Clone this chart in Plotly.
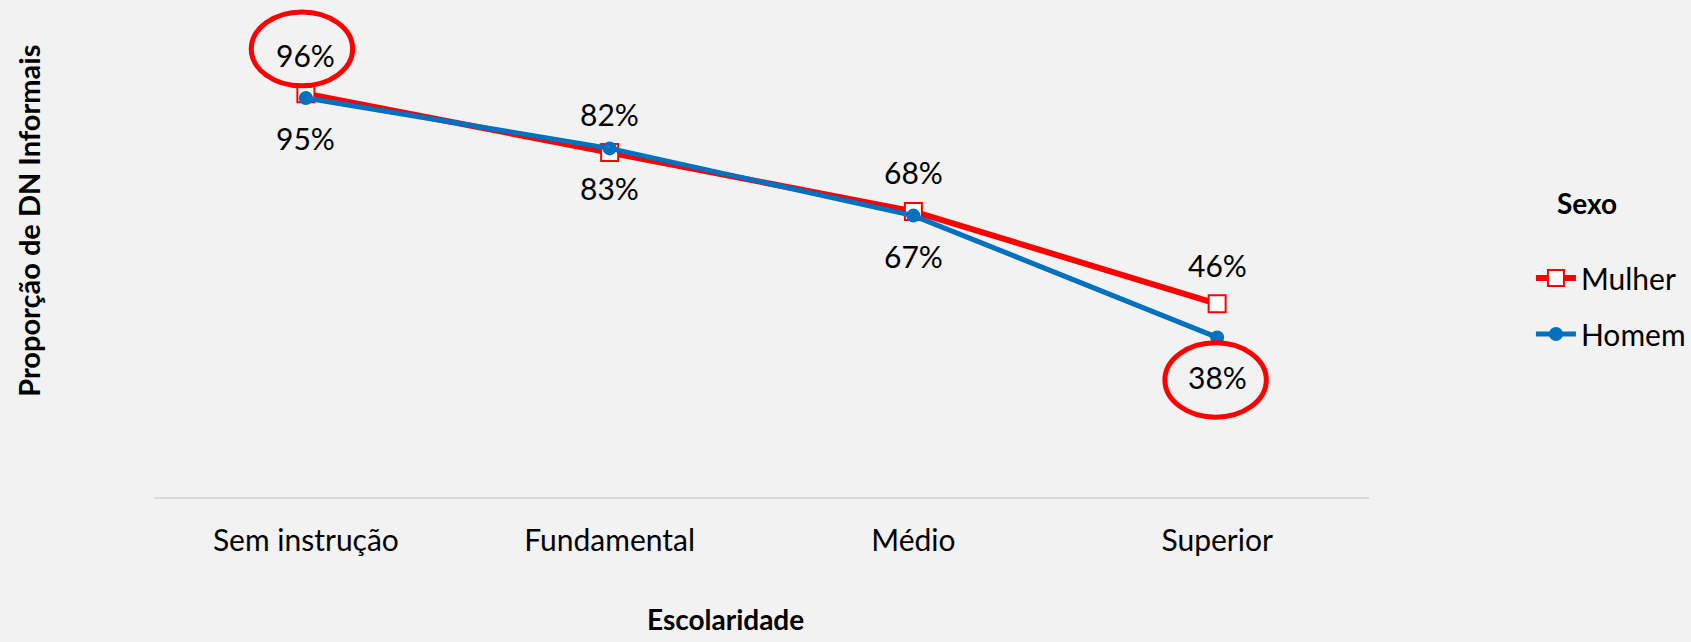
import plotly.graph_objects as go

categories = ["Sem instrução", "Fundamental", "Médio", "Superior"]
mulher = [0.96, 0.82, 0.68, 0.46]
homem = [0.95, 0.83, 0.67, 0.38]
series_names = ["Mulher", "Homem"]
x_title = "Escolaridade"
y_title = "Proporção de DN Informais"
legend_title = "Sexo"

# highlighted points: (series values, index, ellipse offsets)
highlights = [
    (mulher, 0, (-0.180, 0.154, 0.019, 0.195)),
    (homem, 3, (-0.172, 0.162, -0.190, -0.013)),
]

RED = "#FF0000"
BLUE = "#0070C0"
BG = "#F2F2F2"
FONT = "Lato"
W, H = 1691, 642
L, R, T, B = 154, 314, 0, 145
PX_PER_UNIT = 420.0
plot_h = H - T - B
ymax = plot_h / PX_PER_UNIT

fig = go.Figure()
fig.add_trace(go.Scatter(
    x=categories, y=mulher, name=series_names[0], mode="lines+markers",
    line=dict(color=RED, width=6),
    marker=dict(symbol="square", size=17, color="white", line=dict(color=RED, width=2)),
    cliponaxis=False, legendgroup="m",
))
fig.add_trace(go.Scatter(
    x=categories, y=homem, name=series_names[1], mode="lines+markers",
    line=dict(color=BLUE, width=5),
    marker=dict(symbol="circle", size=14, color=BLUE),
    cliponaxis=False, legendgroup="h",
))

annotations = []
for i, c in enumerate(categories):
    annotations.append(dict(x=c, y=mulher[i], xref="x", yref="y", text=f"{round(mulher[i]*100)}%",
                            showarrow=False, yshift=39, font=dict(family=FONT, size=30, color="black")))
    annotations.append(dict(x=c, y=homem[i], xref="x", yref="y", text=f"{round(homem[i]*100)}%",
                            showarrow=False, yshift=-40, font=dict(family=FONT, size=30, color="black")))

def px_to_paper_x(px):
    return (px - L) / (W - L - R)

def px_to_paper_y(py):
    return (H - B - py) / plot_h

annotations.append(dict(x=px_to_paper_x(729), y=px_to_paper_y(619), xref="paper", yref="paper",
                        xanchor="center", yanchor="middle",
                        text=f"<b>{x_title}</b>", showarrow=False,
                        font=dict(family=FONT, size=28, color="black")))
annotations.append(dict(x=px_to_paper_x(27), y=px_to_paper_y(221), xref="paper", yref="paper",
                        xanchor="center", yanchor="middle",
                        text=f"<b>{y_title}</b>", showarrow=False, textangle=-90,
                        font=dict(family=FONT, size=29, color="black")))
annotations.append(dict(x=px_to_paper_x(1596), y=px_to_paper_y(203), xref="paper", yref="paper",
                        xanchor="center", yanchor="middle",
                        text=f"<b>{legend_title}</b>", showarrow=False,
                        font=dict(family=FONT, size=28, color="black")))

shapes = []
for vals, idx, (dx0, dx1, dy0, dy1) in highlights:
    shapes.append(dict(type="circle", xref="x", yref="y",
                       x0=idx + dx0, x1=idx + dx1, y0=vals[idx] + dy0, y1=vals[idx] + dy1,
                       line=dict(color=RED, width=5), fillcolor="rgba(0,0,0,0)"))

fig.update_layout(
    width=W, height=H,
    margin=dict(l=L, r=R, t=T, b=B, pad=0),
    paper_bgcolor=BG, plot_bgcolor=BG,
    font=dict(family=FONT, size=30, color="black"),
    showlegend=True,
    legend=dict(x=px_to_paper_x(1540), y=px_to_paper_y(252), xanchor="left", yanchor="top",
                bgcolor="rgba(0,0,0,0)", font=dict(family=FONT, size=30, color="black"),
                tracegroupgap=14, traceorder="grouped", itemwidth=40),
    annotations=annotations,
    shapes=shapes,
    xaxis=dict(type="category", range=[-0.5, 3.5], showgrid=False, zeroline=False,
               showline=True, linecolor="#D9D9D9", linewidth=2, ticks="",
               ticklabelstandoff=16, tickfont=dict(family=FONT, size=30, color="black")),
    yaxis=dict(range=[0, ymax], showgrid=False, zeroline=False, showline=False,
               showticklabels=False, ticks=""),
)

fig.write_html("out.html", config={"displayModeBar": False},
               post_script="document.body.style.margin='0';document.body.style.background='#F2F2F2';")
